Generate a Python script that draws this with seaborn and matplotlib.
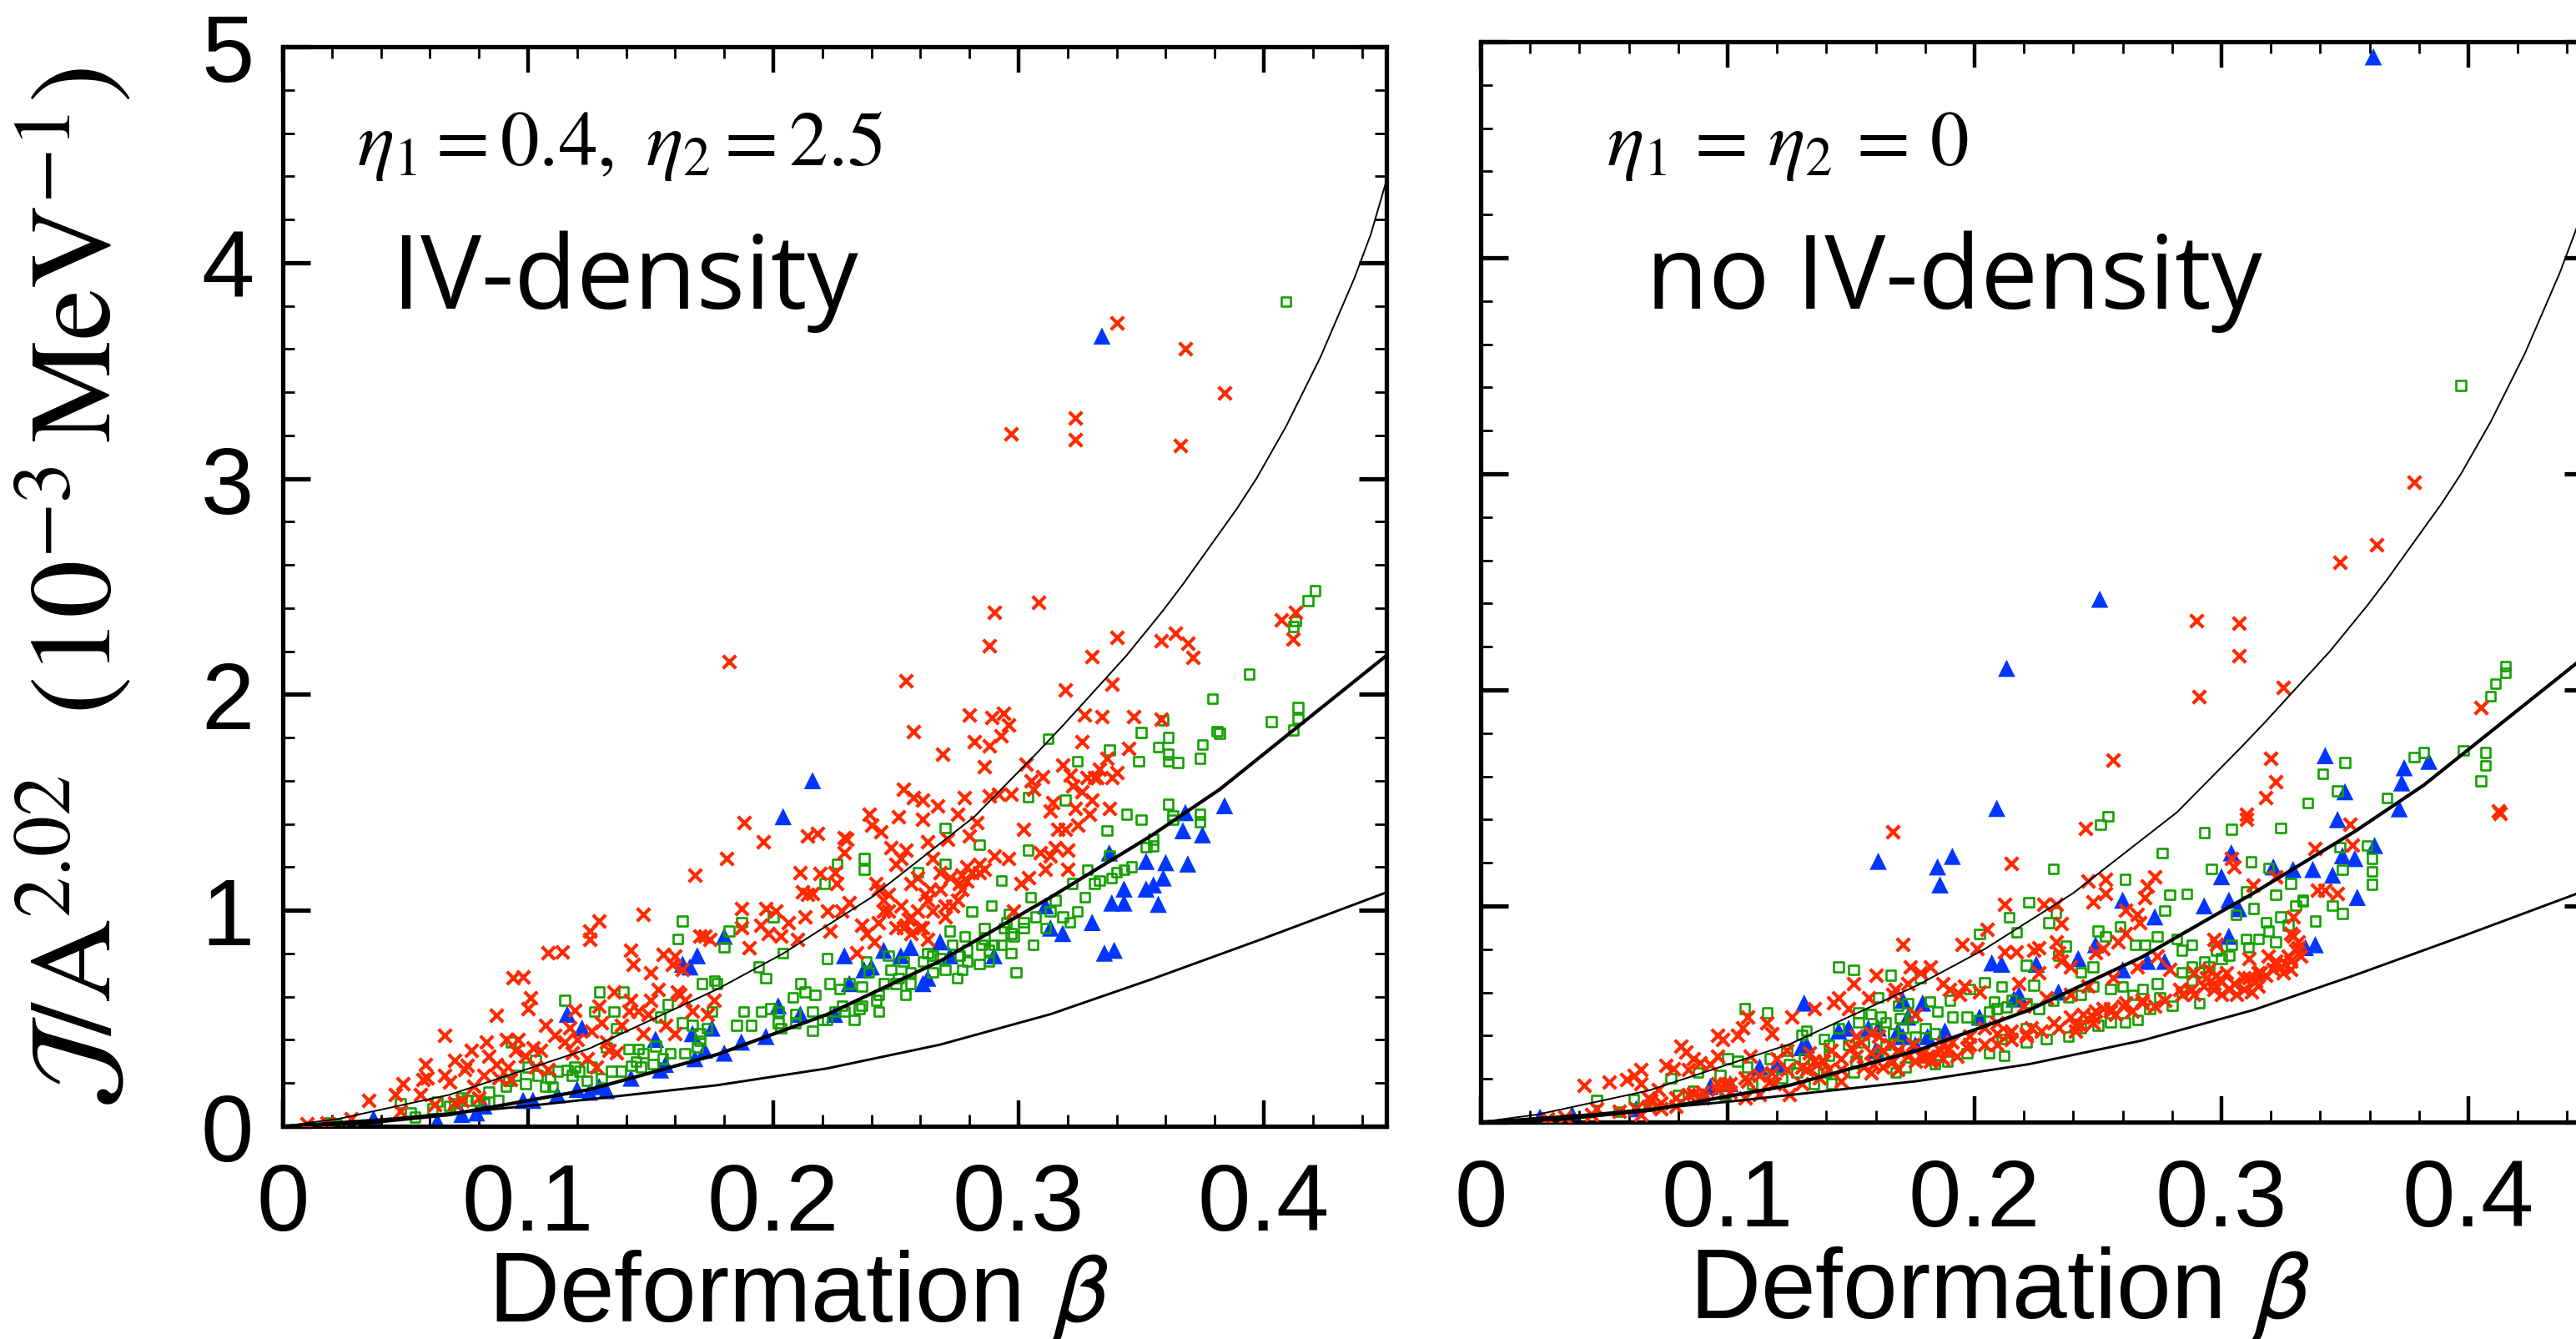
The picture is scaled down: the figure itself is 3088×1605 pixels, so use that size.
import numpy as np
import pandas as pd
import matplotlib
matplotlib.use("Agg")
import matplotlib.pyplot as plt
import seaborn as sns
from matplotlib.ticker import MultipleLocator

# ---------------- reference curves (beta, J/A^2.02) ----------------
CURVE_UPPER_BETA = [0.0, 0.023, 0.068, 0.125, 0.177, 0.204, 0.240, 0.282, 0.308, 0.318, 0.344, 0.359, 0.367, 0.389, 0.397, 0.409, 0.423, 0.437, 0.4436, 0.450]
CURVE_UPPER_J = [0.0, 0.035, 0.146, 0.360, 0.634, 0.800, 1.060, 1.434, 1.735, 1.855, 2.180, 2.390, 2.510, 2.860, 3.000, 3.240, 3.560, 3.930, 4.130, 4.380]
CURVE_MID_BETA = [0.0, 0.034, 0.068, 0.125, 0.177, 0.222, 0.268, 0.313, 0.354, 0.382, 0.4105, 0.450]
CURVE_MID_J = [0.0, 0.015, 0.054, 0.170, 0.332, 0.518, 0.765, 1.060, 1.345, 1.560, 1.820, 2.180]
CURVE_LOW_BETA = [0.0, 0.045, 0.100, 0.177, 0.222, 0.268, 0.313, 0.354, 0.399, 0.450]
CURVE_LOW_J = [0.0, 0.036, 0.094, 0.190, 0.268, 0.378, 0.519, 0.680, 0.866, 1.083]

# ---------------- left panel (IV-density) ----------------
L_RED = [
(0.010,0.010),(0.018,0.017),(0.028,0.036),(0.035,0.120),(0.046,0.146),(0.049,0.197),(0.048,0.068),(0.056,0.146),
(0.057,0.216),(0.058,0.287),(0.059,0.223),(0.062,0.100),(0.066,0.422),(0.066,0.236),(0.068,0.204),(0.070,0.307),
(0.070,0.107),(0.073,0.120),(0.074,0.261),(0.075,0.281),(0.077,0.352),(0.078,0.184),(0.080,0.133),(0.082,0.236),
(0.083,0.390),(0.084,0.326),(0.087,0.513),(0.087,0.287),(0.088,0.223),(0.091,0.403),(0.092,0.274),(0.093,0.216),
(0.094,0.686),(0.095,0.352),(0.096,0.403),(0.098,0.693),(0.099,0.326),(0.100,0.545),(0.101,0.596),(0.102,0.365),
(0.103,0.274),(0.105,0.352),(0.107,0.468),(0.108,0.802),(0.108,0.261),(0.111,0.422),(0.114,0.809),(0.115,0.390),
(0.117,0.455),(0.118,0.339),(0.119,0.538),(0.120,0.403),(0.124,0.313),(0.125,0.905),(0.125,0.867),(0.126,0.442),
(0.128,0.274),(0.129,0.951),(0.129,0.558),(0.130,0.480),(0.132,0.390),(0.133,0.352),(0.135,0.622),(0.136,0.339),
(0.138,0.468),(0.141,0.532),(0.142,0.815),(0.142,0.583),(0.143,0.751),(0.145,0.532),(0.147,0.983),(0.147,0.429),
(0.149,0.519),(0.150,0.712),(0.150,0.583),(0.153,0.635),(0.155,0.796),(0.156,0.468),(0.159,0.751),(0.160,0.429),
(0.160,0.790),(0.161,0.622),(0.162,0.609),(0.163,0.725),(0.164,0.583),(0.167,0.532),(0.168,1.163),(0.170,0.880),
(0.172,0.880),(0.173,0.519),(0.174,0.867),(0.176,0.583),
(0.181,1.240),(0.188,1.408),(0.196,1.318),(0.187,1.008),(0.187,0.918),(0.190,0.828),(0.195,0.931),(0.197,1.008),
(0.201,0.996),(0.198,0.893),(0.203,0.880),(0.206,0.944),(0.210,0.867),(0.211,1.176),(0.212,1.086),(0.214,1.073),
(0.213,0.970),(0.216,1.079),(0.214,1.343),(0.218,1.356),(0.219,1.170),(0.222,0.996),(0.223,0.905),(0.225,1.176),
(0.226,1.124),(0.228,0.996),(0.229,1.266),(0.229,1.337),(0.230,1.330),(0.231,1.034),(0.234,0.802),(0.236,0.931),
(0.238,0.893),(0.239,1.446),(0.240,1.395),(0.241,0.854),(0.242,1.124),(0.243,0.944),(0.244,1.363),(0.245,1.047),
(0.247,0.996),(0.248,1.292),(0.250,1.215),(0.251,1.434),(0.252,1.240),(0.253,1.562),(0.253,0.918),(0.254,1.279),
(0.255,0.957),(0.256,1.124),(0.257,1.524),(0.259,1.150),(0.260,0.918),(0.261,1.421),(0.261,1.511),(0.262,1.073),
(0.263,1.318),(0.264,1.099),(0.265,1.240),(0.267,1.485),(0.268,1.176),(0.269,1.723),(0.270,1.021),(0.271,1.330),
(0.273,1.021),(0.275,1.446),(0.276,1.124),(0.277,1.163),(0.278,1.524),(0.279,1.202),(0.280,1.343),(0.281,1.176),
(0.282,1.781),(0.283,1.408),(0.284,1.215),(0.286,1.189),(0.286,1.665),(0.288,1.530),(0.288,1.762),(0.290,1.253),
(0.292,1.537),(0.293,1.807),(0.296,1.240),(0.297,1.537),(0.298,0.996),(0.301,1.124),(0.302,1.376),(0.303,1.678),
(0.304,1.150),(0.305,1.601),(0.306,1.562),(0.309,1.266),(0.310,1.620),(0.311,1.189),(0.313,1.253),(0.313,1.459),
(0.314,1.498),(0.315,1.292),(0.316,1.376),(0.318,1.672),(0.319,1.376),(0.320,1.189),(0.320,1.279),(0.321,1.627),
(0.322,1.575),(0.323,1.472),(0.324,1.395),(0.326,1.549),(0.326,1.781),(0.328,1.614),(0.329,1.446),(0.330,1.511),
(0.331,1.614),(0.332,1.614),(0.333,1.653),(0.336,1.704),(0.337,1.472),(0.338,1.614),(0.340,1.640),(0.345,1.749),
(0.247,1.073),(0.252,1.021),(0.256,0.970),(0.261,0.918),(0.265,0.996),(0.270,0.970),(0.275,1.047),(0.277,1.099),
(0.279,1.137),(0.284,1.176),(0.254,0.931),(0.259,0.996),(0.263,1.047),(0.268,1.099),(0.272,1.150),(0.245,0.996),
(0.250,0.918),(0.256,0.893),(0.263,0.867),(0.243,1.099),
(0.340,3.721),(0.368,3.600),(0.384,3.396),(0.323,3.281),(0.323,3.179),(0.297,3.206),(0.366,3.152),(0.308,2.427),
(0.290,2.380),(0.288,2.226),(0.340,2.264),(0.330,2.177),(0.358,2.249),(0.364,2.285),(0.369,2.237),(0.371,2.170),
(0.319,2.021),(0.338,2.048),(0.407,2.346),(0.413,2.380),(0.412,2.258),(0.280,1.905),(0.289,1.892),(0.294,1.913),
(0.296,1.859),(0.327,1.905),(0.334,1.896),(0.347,1.897),(0.358,1.886),
(0.182,2.152),(0.254,2.064),(0.257,1.827),
]
L_GREEN = [
(0.019,0.017),(0.022,0.010),(0.048,0.107),(0.052,0.062),(0.054,0.043),(0.061,0.081),(0.063,0.113),(0.068,0.094),
(0.070,0.107),(0.073,0.133),(0.075,0.120),(0.079,0.120),(0.082,0.107),(0.084,0.158),(0.088,0.120),(0.091,0.184),
(0.092,0.210),(0.093,0.390),(0.095,0.236),(0.099,0.197),(0.100,0.274),(0.103,0.307),(0.104,0.236),(0.107,0.184),
(0.109,0.223),(0.110,0.184),(0.112,0.255),(0.115,0.583),(0.116,0.261),(0.118,0.236),(0.119,0.274),(0.121,0.255),
(0.124,0.210),(0.126,0.274),(0.127,0.532),(0.129,0.622),(0.130,0.223),(0.132,0.365),(0.134,0.255),(0.135,0.532),
(0.136,0.455),(0.138,0.255),(0.139,0.622),(0.141,0.358),(0.142,0.281),(0.144,0.300),(0.145,0.358),(0.146,0.274),
(0.147,0.339),(0.151,0.287),(0.152,0.371),(0.154,0.506),(0.155,0.313),(0.157,0.564),(0.158,0.339),(0.161,0.867),
(0.163,0.951),(0.163,0.480),(0.164,0.339),(0.167,0.468),(0.169,0.365),(0.170,0.397),(0.170,0.429),(0.171,0.661),
(0.173,0.455),(0.175,0.532),(0.176,0.674),
(0.182,0.905),(0.187,0.944),(0.180,0.828),(0.177,0.661),(0.185,0.468),(0.188,0.532),(0.191,0.468),(0.194,0.738),
(0.195,0.532),(0.197,0.686),(0.200,0.970),(0.199,0.545),(0.202,0.532),(0.203,0.455),(0.204,0.802),(0.208,0.596),
(0.209,0.519),(0.211,0.661),(0.213,0.622),(0.216,0.442),(0.217,0.609),(0.220,0.493),(0.221,1.124),(0.222,0.777),
(0.223,0.661),(0.225,0.532),(0.226,1.215),(0.227,0.635),(0.228,0.558),(0.231,0.661),(0.233,0.493),(0.235,0.545),
(0.236,0.648),(0.237,1.240),(0.237,1.189),(0.238,0.764),(0.239,0.712),(0.242,0.583),(0.243,0.532),(0.245,0.661),
(0.247,0.790),(0.248,0.725),(0.251,0.686),(0.253,0.764),(0.254,0.609),(0.256,0.661),(0.259,1.176),(0.261,0.764),
(0.263,0.802),(0.265,0.712),(0.268,0.777),(0.270,1.382),(0.270,1.215),(0.272,0.905),(0.273,0.841),(0.275,0.686),
(0.276,0.790),(0.278,0.880),(0.279,0.764),(0.281,0.996),(0.284,1.305),(0.285,0.841),(0.286,0.918),(0.288,0.764),
(0.289,1.021),(0.290,0.841),(0.293,1.137),(0.294,0.918),(0.296,0.983),(0.297,0.802),(0.298,0.880),(0.299,0.712),
(0.302,0.918),(0.304,1.279),(0.305,1.060),(0.306,0.841),(0.307,0.970),(0.311,0.918),(0.313,0.996),(0.315,1.047),
(0.318,0.970),(0.321,0.944),(0.322,1.124),(0.324,0.996),(0.327,1.060),(0.328,1.189),(0.331,1.124),(0.333,1.137),
(0.336,1.369),(0.337,1.253),(0.338,1.150),(0.340,1.176),(0.343,1.189),(0.344,1.446),(0.346,1.202),(0.349,1.691),
(0.350,1.421),(0.352,1.292),(0.337,1.743),(0.312,1.794),(0.324,1.691),(0.319,1.511),(0.304,1.524),
(0.279,0.815),(0.284,0.751),(0.288,0.815),(0.293,0.841),(0.297,0.893),(0.302,0.944),(0.295,0.944),(0.286,0.867),
(0.277,0.725),(0.270,0.725),(0.265,0.790),(0.256,0.712),(0.250,0.661),(0.243,0.609),(0.236,0.558),(0.229,0.532),
(0.222,0.493),(0.216,0.532),(0.209,0.480),(0.202,0.480),
(0.357,1.756),(0.361,1.801),(0.361,1.723),(0.361,1.691),(0.365,1.685),(0.375,1.768),(0.374,1.704),(0.382,1.820),
(0.361,1.492),(0.363,1.440),(0.363,1.421),(0.374,1.446),(0.374,1.410),(0.355,1.330),(0.355,1.298),
(0.409,3.820),(0.421,2.481),(0.418,2.434),(0.413,2.339),(0.412,2.315),(0.394,2.095),(0.379,1.980),(0.414,1.940),
(0.414,1.888),(0.403,1.874),(0.359,1.880),(0.350,1.824),(0.381,1.829),(0.412,1.836),
]
L_BLUE = [
(0.037,0.036),(0.063,0.023),(0.073,0.055),(0.079,0.062),(0.082,0.094),(0.098,0.120),(0.102,0.120),(0.112,0.146),
(0.116,0.519),(0.120,0.171),(0.122,0.455),(0.125,0.158),(0.129,0.184),(0.132,0.165),(0.142,0.223),(0.152,0.403),
(0.154,0.261),(0.156,0.287),(0.163,0.751),(0.166,0.738),(0.167,0.429),(0.168,0.313),(0.169,0.790),(0.172,0.352),
(0.175,0.455),
(0.216,1.601),(0.204,1.434),(0.180,0.339),(0.187,0.390),(0.197,0.416),(0.202,0.558),(0.211,0.519),(0.180,0.880),
(0.225,0.519),(0.229,0.790),(0.231,0.661),(0.237,0.725),(0.240,0.738),(0.245,0.815),(0.252,0.790),(0.256,0.828),
(0.261,0.661),(0.263,0.686),(0.268,0.854),(0.272,0.790),(0.290,0.790),(0.311,1.021),(0.313,0.918),(0.318,0.893),
(0.330,0.944),(0.337,1.266),(0.338,1.034),(0.343,1.034),(0.343,1.099),(0.335,0.802),(0.339,0.815),(0.352,1.227),
(0.352,1.099),
(0.368,1.453),(0.367,1.369),(0.375,1.350),(0.384,1.485),(0.360,1.221),(0.369,1.215),(0.359,1.150),(0.355,1.118),
(0.357,1.028),(0.334,3.660),
]

# ---------------- right panel (no IV-density) ----------------
R_RED = [
(0.042,0.171),(0.052,0.184),(0.059,0.197),(0.062,0.216),(0.065,0.242),(0.065,0.178),(0.068,0.113),(0.069,0.100),
(0.072,0.152),(0.075,0.261),(0.078,0.248),(0.081,0.351),(0.083,0.326),(0.084,0.242),(0.086,0.293),(0.089,0.274),
(0.090,0.113),(0.093,0.268),(0.096,0.306),(0.096,0.403),(0.098,0.384),(0.101,0.139),(0.104,0.403),(0.106,0.435),
(0.108,0.486),(0.108,0.190),(0.109,0.306),(0.116,0.461),(0.117,0.184),(0.118,0.409),(0.120,0.293),(0.124,0.332),
(0.126,0.486),(0.130,0.178),(0.133,0.319),(0.135,0.525),(0.136,0.268),(0.137,0.203),(0.139,0.281),(0.142,0.332),
(0.143,0.551),(0.145,0.577),(0.146,0.242),(0.149,0.525),(0.150,0.345),(0.151,0.641),(0.152,0.396),(0.154,0.371),
(0.155,0.255),(0.157,0.577),(0.158,0.409),(0.159,0.268),(0.160,0.680),(0.161,0.396),(0.163,0.255),(0.166,0.358),
(0.167,0.589),(0.168,0.615),(0.169,0.242),(0.171,0.821),(0.173,0.641),(0.174,0.718),(0.167,1.342),(0.173,0.306),
(0.176,0.499),(0.125,0.126),(0.113,0.126),(0.056,0.049),(0.073,0.062),(0.079,0.075),(0.045,0.036),(0.034,0.023),
(0.027,0.017),(0.096,0.152),(0.107,0.113),(0.119,0.178),(0.132,0.242),(0.146,0.190),(0.141,0.242),(0.158,0.229),
(0.167,0.281),(0.086,0.133),(0.099,0.178),(0.047,0.062),(0.063,0.062),(0.065,0.036),
(0.101,0.178),(0.107,0.203),(0.113,0.216),(0.118,0.229),(0.124,0.242),(0.130,0.255),(0.135,0.281),(0.146,0.293),
(0.152,0.306),(0.158,0.319),(0.163,0.332),(0.169,0.332),(0.175,0.358),(0.068,0.075),(0.073,0.088),(0.079,0.113),
(0.084,0.126),(0.090,0.139),(0.096,0.178),
(0.256,1.677),(0.320,1.683),(0.322,1.574),(0.318,1.501),(0.310,1.426),(0.310,1.400),(0.245,1.358),(0.215,1.197),
(0.304,1.220),(0.305,1.181),(0.212,1.008),(0.228,1.008),(0.233,1.008),(0.235,0.918),(0.205,0.892),(0.195,0.821),
(0.201,0.802),(0.212,0.789),(0.217,0.789),(0.224,0.795),(0.226,0.808),(0.233,0.834),(0.234,0.782),(0.235,0.744),
(0.239,0.718),(0.246,1.117),(0.253,1.124),(0.248,1.021),(0.253,1.059),(0.270,1.091),(0.273,1.136),(0.269,1.040),
(0.261,0.982),(0.266,0.963),(0.267,0.924),(0.261,0.873),(0.258,0.834),(0.252,0.802),(0.249,0.782),(0.338,1.265),
(0.313,1.098),(0.322,1.136),(0.329,0.950),(0.339,1.072),(0.342,1.072),(0.347,1.059),(0.329,0.860),(0.331,0.808),
(0.297,0.847),(0.298,0.821),(0.274,0.770),(0.266,0.718),(0.256,0.667),(0.246,0.628),(0.239,0.589),(0.229,0.577),
(0.220,0.538),(0.209,0.461),(0.204,0.435),(0.198,0.396),(0.191,0.371),(0.186,0.332),(0.182,0.306),(0.179,0.293),
(0.176,0.281),(0.194,0.589),(0.190,0.615),(0.187,0.641),(0.182,0.718),(0.178,0.692),(0.202,0.602),(0.196,0.628),
(0.218,0.641),(0.226,0.692),(0.214,0.409),(0.223,0.435),(0.232,0.461),(0.239,0.486),(0.244,0.499),(0.252,0.525),
(0.260,0.538),(0.268,0.551),(0.277,0.564),(0.284,0.589),(0.279,0.705),(0.289,0.589),(0.297,0.615),(0.300,0.654),
(0.305,0.641),(0.311,0.667),(0.316,0.692),(0.322,0.731),(0.328,0.744),(0.309,0.615),(0.315,0.628),(0.298,0.680),
(0.289,0.692),(0.311,0.757),(0.319,0.770),(0.328,0.705),(0.325,0.692),(0.332,0.770),(0.295,0.705),(0.283,0.615),
(0.273,0.538),(0.264,0.512),(0.257,0.499),(0.248,0.486),(0.241,0.448),(0.234,0.435),(0.227,0.422),(0.221,0.396),
(0.215,0.384),(0.209,0.358),(0.204,0.358),(0.197,0.345),(0.193,0.306),(0.187,0.293),(0.181,0.306),(0.241,0.422),
(0.248,0.461),(0.255,0.512),
(0.300,0.589),(0.303,0.615),(0.306,0.589),(0.312,0.602),(0.314,0.654),(0.318,0.680),(0.321,0.705),(0.324,0.718),
(0.327,0.770),(0.330,0.795),(0.331,0.834),(0.328,0.873),(0.322,0.744),(0.315,0.692),(0.309,0.667),(0.302,0.692),
(0.297,0.641),(0.294,0.667),(0.293,0.628),(0.288,0.615),(0.243,0.448),(0.249,0.512),(0.255,0.525),(0.261,0.551),
(0.268,0.564),(0.221,0.409),(0.215,0.422),(0.209,0.409),(0.198,0.358),(0.189,0.332),(0.182,0.281),(0.179,0.319),
(0.187,0.358),
(0.290,2.320),(0.307,2.310),(0.307,2.160),(0.291,1.970),(0.325,2.010),(0.348,2.590),(0.363,2.670),(0.378,2.960),
(0.405,1.920),(0.412,1.440),(0.413,1.430),(0.352,1.380),(0.353,1.280),
]
R_GREEN = [
(0.047,0.100),(0.062,0.107),(0.077,0.203),(0.080,0.126),(0.086,0.145),(0.088,0.229),(0.097,0.216),(0.100,0.293),
(0.104,0.281),(0.107,0.525),(0.108,0.255),(0.110,0.178),(0.116,0.506),(0.117,0.293),(0.118,0.216),(0.122,0.203),
(0.124,0.332),(0.125,0.268),(0.128,0.229),(0.130,0.403),(0.131,0.293),(0.132,0.422),(0.135,0.178),(0.139,0.384),
(0.141,0.358),(0.142,0.178),(0.145,0.718),(0.145,0.435),(0.151,0.705),(0.152,0.281),(0.153,0.506),(0.153,0.461),
(0.158,0.499),(0.161,0.577),(0.162,0.486),(0.164,0.358),(0.166,0.680),(0.167,0.409),(0.168,0.229),(0.169,0.538),
(0.169,0.358),(0.170,0.480),(0.172,0.255),(0.173,0.551),(0.176,0.396),(0.161,0.306),(0.151,0.229),(0.140,0.229),
(0.135,0.242),(0.099,0.126),(0.068,0.075),(0.056,0.049),
(0.141,0.306),(0.149,0.358),(0.155,0.371),(0.160,0.435),(0.164,0.461),(0.171,0.435),(0.175,0.486),
(0.254,1.416),(0.251,1.377),(0.232,1.171),(0.222,1.017),(0.214,0.947),(0.217,0.879),(0.230,0.922),(0.233,0.969),
(0.202,0.870),(0.293,1.340),(0.304,1.355),(0.324,1.362),(0.335,1.477),(0.341,1.613),(0.347,1.532),(0.350,1.664),
(0.276,1.246),(0.261,1.124),(0.296,1.171),(0.312,1.205),(0.319,1.175),(0.348,1.272),(0.349,1.169),(0.279,1.053),
(0.286,1.055),(0.310,1.066),(0.322,1.053),(0.328,1.104),(0.333,1.021),(0.338,0.931),(0.345,1.001),(0.349,0.965),
(0.277,0.978),(0.306,0.959),(0.313,0.988),(0.318,0.924),(0.327,0.911),(0.322,0.834),(0.310,0.847),(0.304,0.821),
(0.298,0.795),(0.293,0.744),(0.288,0.821),(0.284,0.795),(0.282,0.847),(0.274,0.860),(0.269,0.821),(0.265,0.821),
(0.259,0.905),(0.253,0.860),(0.250,0.885),(0.248,0.718),(0.243,0.692),(0.237,0.815),(0.234,0.770),(0.224,0.634),
(0.221,0.725),(0.211,0.628),(0.208,0.557),(0.204,0.647),(0.198,0.615),(0.190,0.564),(0.182,0.557),(0.178,0.667),
(0.185,0.512),(0.191,0.486),(0.197,0.486),(0.202,0.474),(0.206,0.512),(0.213,0.532),(0.221,0.435),(0.229,0.384),
(0.238,0.396),(0.243,0.435),(0.250,0.448),(0.255,0.461),(0.261,0.461),(0.266,0.474),(0.271,0.525),(0.275,0.577),
(0.280,0.538),(0.288,0.654),(0.291,0.692),(0.295,0.718),(0.300,0.757),(0.303,0.770),(0.311,0.808),(0.315,0.847),
(0.319,0.885),(0.324,0.950),(0.330,1.001),(0.333,1.027),(0.288,0.718),(0.284,0.692),(0.274,0.641),(0.268,0.615),
(0.264,0.589),(0.260,0.628),(0.255,0.615),(0.248,0.628),(0.243,0.589),(0.238,0.577),(0.232,0.564),(0.226,0.525),
(0.221,0.551),(0.215,0.564),(0.209,0.525),(0.180,0.435),(0.184,0.409),(0.189,0.281),(0.197,0.319),(0.206,0.319),
(0.212,0.306),(0.221,0.371),(0.211,0.384),(0.184,0.268),(0.291,0.551),(0.284,0.602),
(0.397,3.410),(0.415,2.110),(0.415,2.080),(0.411,2.030),(0.409,1.970),
(0.398,1.720),(0.407,1.710),(0.407,1.650),(0.405,1.580),(0.378,1.690),(0.382,1.710),(0.367,1.500),(0.359,1.280),
(0.361,1.220),(0.361,1.160),(0.361,1.100),
]
R_BLUE = [
(0.024,0.023),(0.037,0.036),(0.063,0.062),(0.090,0.120),(0.093,0.165),(0.113,0.255),(0.131,0.551),(0.130,0.345),
(0.132,0.358),(0.145,0.422),(0.149,0.435),(0.157,0.435),(0.160,0.332),(0.161,0.435),(0.161,1.207),(0.171,0.564),
(0.171,0.396),(0.173,0.486),(0.169,0.422),(0.120,0.268),(0.101,0.178),
(0.209,1.452),(0.191,1.230),(0.185,1.181),(0.186,1.098),(0.342,1.696),(0.350,1.529),(0.347,1.400),(0.304,1.246),
(0.300,1.136),(0.321,1.181),(0.329,1.169),(0.337,1.169),(0.345,1.143),(0.349,1.233),(0.260,1.027),(0.273,0.950),
(0.293,1.001),(0.303,1.027),(0.307,0.988),(0.334,0.808),(0.338,0.821),(0.207,0.737),(0.211,0.731),(0.225,0.731),
(0.242,0.757),(0.249,0.821),(0.277,0.744),(0.179,0.551),(0.202,0.486),(0.216,0.570),(0.218,0.589),(0.234,0.602),
(0.188,0.422),(0.181,0.396),(0.176,0.358),(0.260,0.705),(0.270,0.744),(0.303,0.860),
(0.3615,4.930),(0.2507,2.420),(0.213,2.100),
(0.374,1.640),(0.373,1.570),(0.384,1.670),(0.372,1.450),(0.355,1.040),(0.362,1.280),(0.354,1.220),
]

XTICKS = [0.0, 0.1, 0.2, 0.3, 0.4]
XTICK_LABELS = ["0", "0.1", "0.2", "0.3", "0.4"]
YTICKS = [0, 1, 2, 3, 4, 5]
YTICK_LABELS = ["0", "1", "2", "3", "4", "5"]

RED = "#ff2a00"
GREEN = "#14a000"
BLUE = "#0036ff"


def frame(points, series, panel):
    arr = np.asarray(points, dtype=float)
    return pd.DataFrame({"beta": arr[:, 0], "J": arr[:, 1], "series": series, "panel": panel})


data = pd.concat([
    frame(L_RED, "red", "L"), frame(L_GREEN, "green", "L"), frame(L_BLUE, "blue", "L"),
    frame(R_RED, "red", "R"), frame(R_GREEN, "green", "R"), frame(R_BLUE, "blue", "R"),
], ignore_index=True)

curves = pd.concat([
    pd.DataFrame({"beta": CURVE_UPPER_BETA, "J": CURVE_UPPER_J, "curve": "upper"}),
    pd.DataFrame({"beta": CURVE_MID_BETA, "J": CURVE_MID_J, "curve": "mid"}),
    pd.DataFrame({"beta": CURVE_LOW_BETA, "J": CURVE_LOW_J, "curve": "low"}),
], ignore_index=True)

sns.set_theme(style="ticks")
plt.rcParams["font.family"] = ["Liberation Sans", "DejaVu Sans"]
plt.rcParams["mathtext.fontset"] = "stix"
for key in ["text.color", "axes.labelcolor", "xtick.color", "ytick.color", "axes.edgecolor"]:
    plt.rcParams[key] = "black"

W, H = 3088, 1606
fig = plt.figure(figsize=(W / 100, H / 100), dpi=100)
fig.patch.set_facecolor("white")
axL = fig.add_axes([339 / W, 1 - 1351 / H, 1323 / W, 1294 / H])
axR = fig.add_axes([1775 / W, 1 - 1346 / H, 1332 / W, 1295 / H])

for ax, panel in [(axL, "L"), (axR, "R")]:
    d = data[data["panel"] == panel]
    sns.scatterplot(data=d[d["series"] == "blue"], x="beta", y="J", ax=ax, color=BLUE,
                    marker="^", s=220, linewidth=0, edgecolor="none", zorder=2, legend=False)
    sns.scatterplot(data=d[d["series"] == "green"], x="beta", y="J", ax=ax, color=GREEN,
                    marker="s", s=68, facecolor="none", edgecolor=GREEN, linewidth=1.9,
                    zorder=3, legend=False)
    sns.scatterplot(data=d[d["series"] == "red"], x="beta", y="J", ax=ax, color=RED,
                    marker="x", s=125, linewidth=3.0, zorder=4, legend=False)
    for name, lw in [("upper", 1.4), ("mid", 3.0), ("low", 2.1)]:
        c = curves[curves["curve"] == name]
        sns.lineplot(data=c, x="beta", y="J", ax=ax, color="black", linewidth=lw,
                     estimator=None, sort=False, zorder=5, legend=False)

    ax.set_xlim(0, 0.45)
    ax.set_ylim(0, 5)
    ax.set_xticks(XTICKS, labels=XTICK_LABELS)
    ax.set_yticks(YTICKS, labels=YTICK_LABELS if panel == "L" else [""] * len(YTICKS))
    ax.xaxis.set_minor_locator(MultipleLocator(0.02))
    ax.yaxis.set_minor_locator(MultipleLocator(0.2))
    ax.tick_params(which="both", direction="in", top=True, right=True, bottom=True, left=True,
                   color="black", labelcolor="black")
    ax.tick_params(axis="x", which="major", length=22, width=3.2, labelsize=82, pad=30)
    ax.tick_params(axis="y", which="major", length=24, width=3.8, labelsize=82, pad=25)
    ax.tick_params(which="minor", length=10, width=2.0)
    for s in ax.spines.values():
        s.set_linewidth(3.8)
        s.set_color("black")
        s.set_visible(True)
    ax.set_ylabel("")
    ax.set_xlabel("Deformation $\\beta$", fontsize=85, math_fontfamily="stixsans", color="black")
    ax.xaxis.set_label_coords(0.467, -0.113)
    ax.set_facecolor("white")

fig.text(90 / W, 1 - 704 / H,
         r"$\mathcal{J}/\mathrm{A}^{2.02}\ \ (10^{-3}\,\mathrm{MeV}^{-1})$",
         rotation=90, ha="center", va="center", fontsize=100, color="black")

fig.text(428 / W, 1 - 198 / H, r"$\eta_1 = 0.4,\ \eta_2 = 2.5$", fontsize=67,
         ha="left", va="baseline", color="black")
fig.text(1926 / W, 1 - 198 / H, r"$\eta_1 \,=\, \eta_2 \,=\, 0$", fontsize=67,
         ha="left", va="baseline", color="black")
fig.text(470 / W, 1 - 370 / H, "IV-density", fontsize=88, family=["Open Sans", "DejaVu Sans"],
         ha="left", va="baseline", color="black")
fig.text(1973 / W, 1 - 370 / H, "no IV-density", fontsize=88, family=["Open Sans", "DejaVu Sans"],
         ha="left", va="baseline", color="black")

fig.savefig("out.png", dpi=100)
